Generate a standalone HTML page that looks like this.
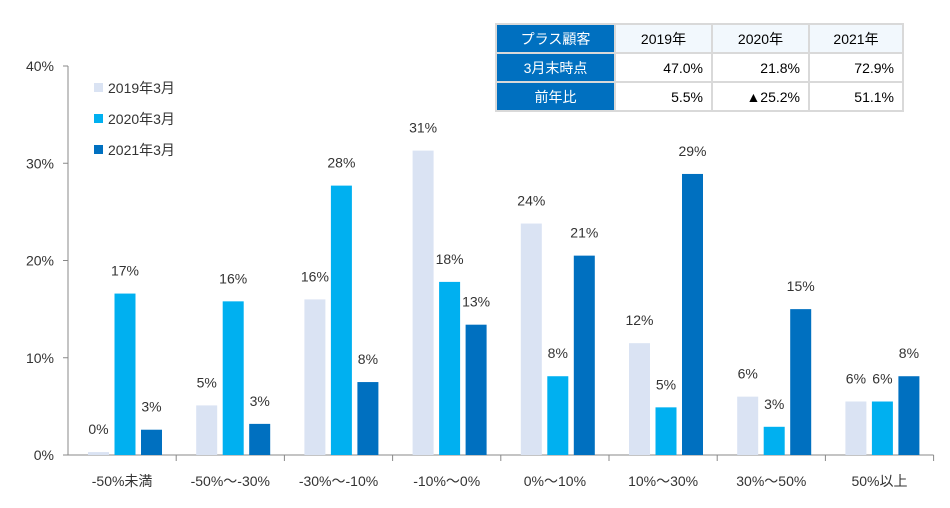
<!DOCTYPE html>
<html><head><meta charset="utf-8"><style>
body{margin:0;background:#fff;font-family:"Liberation Sans","Noto Sans CJK JP",sans-serif;}
#wrap{position:relative;width:950px;height:508px;overflow:hidden;}
table{position:absolute;left:495px;top:23px;border-collapse:collapse;font-size:14px;}
td{border:2px solid #d9d9d9;height:27px;padding:0 8px;}
td.h{background:#0070C0;color:#fff;text-align:center;width:101px;}
td.c{background:#f2f8fd;text-align:center;}
td.v{text-align:right;}
</style></head><body>
<div id="wrap">
<svg id="svg" width="950" height="508" style="position:absolute;left:0;top:0"></svg>
<table>
<tr><td class="h">プラス顧客</td><td class="c" style="width:79px">2019年</td><td class="c" style="width:79px">2020年</td><td class="c" style="width:76px">2021年</td></tr>
<tr><td class="h">3月末時点</td><td class="v">47.0%</td><td class="v">21.8%</td><td class="v">72.9%</td></tr>
<tr><td class="h">前年比</td><td class="v">5.5%</td><td class="v">▲25.2%</td><td class="v">51.1%</td></tr>
</table>
</div>
<script>
const categories=["-50%未満","-50%～-30%","-30%～-10%","-10%～0%","0%～10%","10%～30%","30%～50%","50%以上"];
const seriesNames=["2019年3月","2020年3月","2021年3月"];
const s2019=[0.3,5.1,16,31.3,23.8,11.5,6,5.5];
const s2020=[16.6,15.8,27.7,17.8,8.1,4.9,2.9,5.5];
const s2021=[2.6,3.2,7.5,13.4,20.5,28.9,15.0,8.1];
const l2019=["0%","5%","16%","31%","24%","12%","6%","6%"];
const l2020=["17%","16%","28%","18%","8%","5%","3%","6%"];
const l2021=["3%","3%","8%","13%","21%","29%","15%","8%"];
const yTicks=[0,10,20,30,40];
const colors=["#dae3f3","#00b0f0","#0070c0"];
const svg=document.getElementById('svg');const NS="http://www.w3.org/2000/svg";
function mk(t,a,txt){const e=document.createElementNS(NS,t);for(const k in a)e.setAttribute(k,a[k]);if(txt!=null)e.textContent=txt;svg.appendChild(e);return e;}
const x0=68,y0=455,yTop=66,gw=108.2;
const y=v=>y0-(v/40)*(y0-yTop);
yTicks.forEach(t=>{const e=mk('text',{x:54,y:y(t)+5,'text-anchor':'end','font-size':14,fill:'#333'},t+'%');
});
const ax=mk('line',{x1:x0,y1:yTop,x2:x0,y2:y0,stroke:'#888'});
yTicks.forEach(t=>mk('line',{x1:x0-5,y1:y(t),x2:x0,y2:y(t),stroke:'#888'}));
const bx=mk('line',{x1:x0,y1:y0,x2:x0+gw*8,y2:y0,stroke:'#888'});
const series=[s2019,s2020,s2021],labels=[l2019,l2020,l2021];
categories.forEach((c,i)=>{
 const gx=x0+gw*i;
 mk('line',{x1:gx+gw,y1:y0,x2:gx+gw,y2:y0+6,stroke:'#888'});
 const t=mk('text',{x:gx+gw/2,y:486,'text-anchor':'middle','font-size':14,fill:'#333'},c);
 
 series.forEach((s,j)=>{
  const bxp=gx+20+j*26.5;
  const r=mk('rect',{x:bxp,y:y(s[i]),width:21,height:y0-y(s[i]),fill:colors[j]});
  
  const lb=mk('text',{x:bxp+10.5,y:y(s[i])-18,'text-anchor':'middle','font-size':14,fill:'#333'},labels[j][i]);
  
 });
});
seriesNames.forEach((n,j)=>{
 const ly=88+j*31;
 const r=mk('rect',{x:94,y:ly-5,width:9,height:9,fill:colors[j]});
 
 const t=mk('text',{x:108,y:ly+5,'font-size':14,fill:'#333'},n);
 
});
</script>
</body></html>
